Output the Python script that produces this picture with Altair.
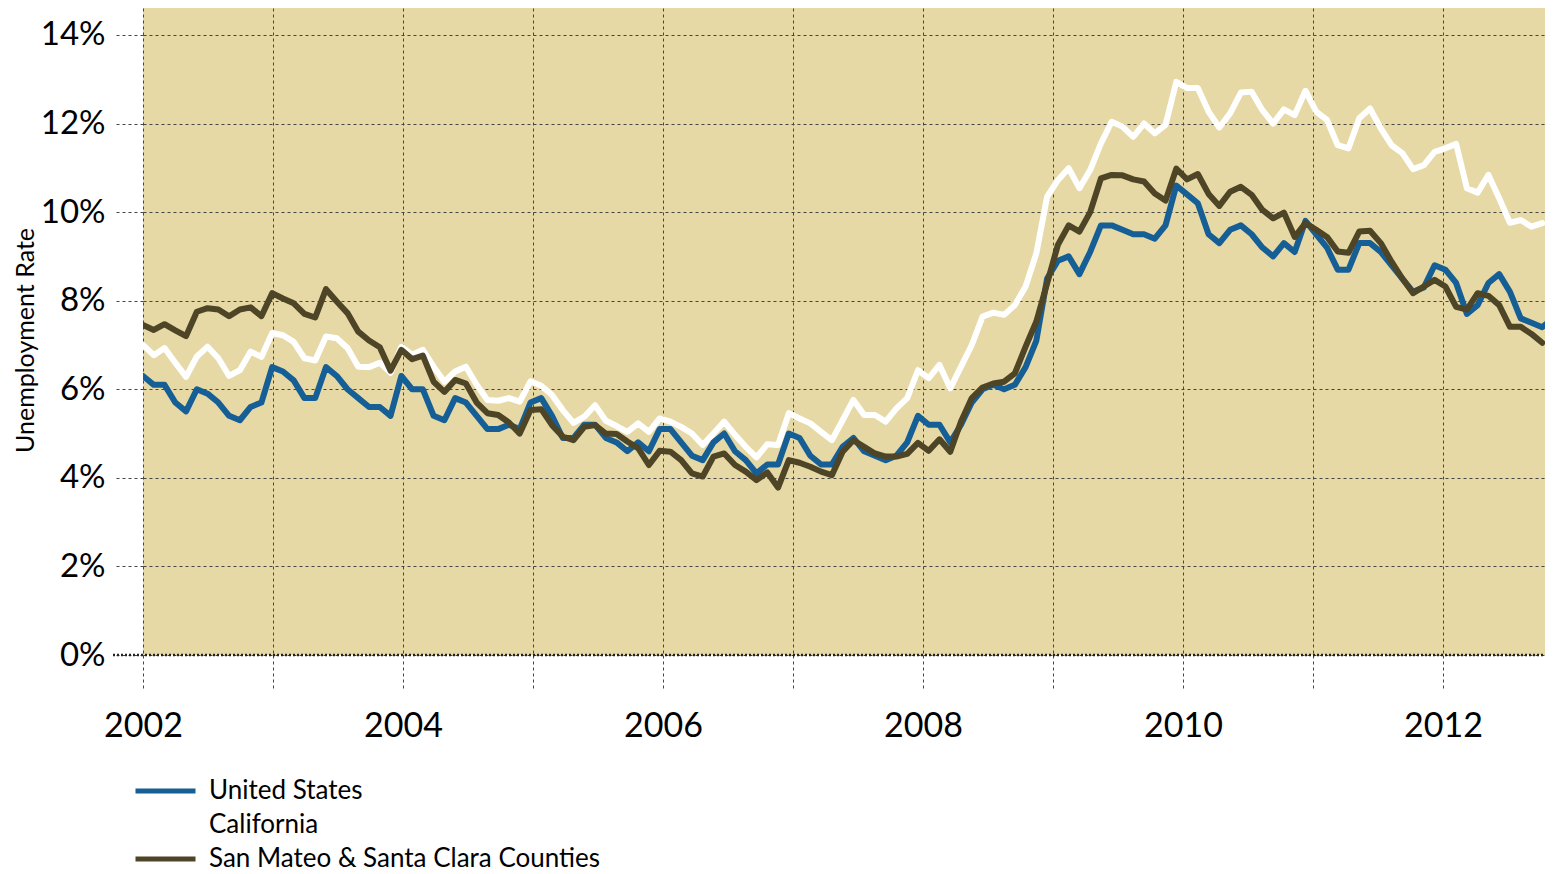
import altair as alt
import pandas as pd

# ---------------- data (monthly, Jan 2002 onward) ----------------
SERIES = ["United States", "California", "San Mateo & Santa Clara Counties"]
COLORS = ["#165E96", "#FFFFFF", "#4E4426"]

us_rate = [
    6.3, 6.1, 6.1, 5.7, 5.5, 6.0, 5.9, 5.7, 5.4, 5.3, 5.6, 5.7,
    6.5, 6.4, 6.2, 5.8, 5.8, 6.5, 6.3, 6.0, 5.8, 5.6, 5.6, 5.4,
    6.3, 6.0, 6.0, 5.4, 5.3, 5.8, 5.7, 5.4, 5.1, 5.1, 5.2, 5.1,
    5.7, 5.8, 5.4, 4.9, 4.9, 5.2, 5.2, 4.9, 4.8, 4.6, 4.8, 4.6,
    5.1, 5.1, 4.8, 4.5, 4.4, 4.8, 5.0, 4.6, 4.4, 4.1, 4.3, 4.3,
    5.0, 4.9, 4.5, 4.3, 4.3, 4.7, 4.9, 4.6, 4.5, 4.4, 4.5, 4.8,
    5.4, 5.2, 5.2, 4.8, 5.2, 5.7, 6.0, 6.1, 6.0, 6.1, 6.5, 7.1,
    8.5, 8.9, 9.0, 8.6, 9.1, 9.7, 9.7, 9.6, 9.5, 9.5, 9.4, 9.7,
    10.6, 10.4, 10.2, 9.5, 9.3, 9.6, 9.7, 9.5, 9.2, 9.0, 9.3, 9.1,
    9.8, 9.5, 9.2, 8.7, 8.7, 9.3, 9.3, 9.1, 8.8, 8.5, 8.2, 8.3,
    8.8, 8.7, 8.4, 7.7, 7.9, 8.4, 8.6, 8.2, 7.6, 7.5, 7.4, 7.6,
]

ca_rate = [
    7.0, 6.77, 6.93, 6.6, 6.28, 6.74, 6.96, 6.7, 6.3, 6.43, 6.85, 6.73,
    7.27, 7.22, 7.07, 6.7, 6.65, 7.19, 7.15, 6.93, 6.51, 6.5, 6.6, 6.37,
    6.96, 6.78, 6.89, 6.51, 6.17, 6.4, 6.51, 6.1, 5.76, 5.74, 5.8, 5.72,
    6.18, 6.08, 5.87, 5.53, 5.24, 5.38, 5.64, 5.29, 5.17, 5.04, 5.23, 5.04,
    5.34, 5.27, 5.15, 5.0, 4.74, 5.0, 5.27, 4.97, 4.7, 4.46, 4.76, 4.74,
    5.46, 5.34, 5.23, 5.04, 4.85, 5.3, 5.76, 5.42, 5.42, 5.27, 5.57, 5.8,
    6.43, 6.25, 6.55, 6.02, 6.51, 7.0, 7.64, 7.73, 7.68, 7.9, 8.32, 9.07,
    10.35, 10.72, 10.99, 10.54, 10.95, 11.55, 12.04, 11.93, 11.7, 12.0, 11.78, 11.97,
    12.94, 12.8, 12.8, 12.27, 11.91, 12.23, 12.7, 12.72, 12.3, 12.0, 12.32, 12.19,
    12.74, 12.27, 12.08, 11.51, 11.44, 12.12, 12.34, 11.89, 11.51, 11.33, 10.97, 11.06,
    11.36, 11.44, 11.54, 10.54, 10.44, 10.84, 10.31, 9.76, 9.82, 9.67, 9.75,
]

county_rate = [
    7.45, 7.34, 7.47, 7.33, 7.2, 7.75, 7.83, 7.8, 7.65, 7.8, 7.85, 7.65,
    8.17, 8.05, 7.94, 7.7, 7.62, 8.26, 7.98, 7.72, 7.3, 7.1, 6.95, 6.42,
    6.89, 6.68, 6.76, 6.17, 5.94, 6.21, 6.13, 5.7, 5.46, 5.42, 5.25, 5.0,
    5.53, 5.55, 5.19, 4.93, 4.85, 5.15, 5.19, 5.0, 4.99, 4.82, 4.67, 4.29,
    4.61, 4.59, 4.4, 4.1, 4.03, 4.48, 4.55, 4.29, 4.14, 3.95, 4.12, 3.78,
    4.4, 4.34, 4.25, 4.14, 4.06, 4.59, 4.85, 4.7, 4.55, 4.48, 4.48, 4.54,
    4.79, 4.61, 4.87, 4.59, 5.27, 5.8, 6.04, 6.13, 6.17, 6.36, 6.96, 7.53,
    8.39, 9.26, 9.7, 9.56, 10.0, 10.76, 10.84, 10.83, 10.74, 10.69, 10.42, 10.26,
    10.98, 10.74, 10.86, 10.41, 10.14, 10.46, 10.57, 10.39, 10.05, 9.86, 9.99, 9.44,
    9.75, 9.6, 9.44, 9.11, 9.08, 9.56, 9.58, 9.3, 8.88, 8.5, 8.17, 8.32,
    8.47, 8.32, 7.86, 7.8, 8.17, 8.11, 7.9, 7.41, 7.41, 7.25, 7.05,
]

FIRST_YEAR = 2002
years = list(range(2002, 2013))
y_ticks = [0, 2, 4, 6, 8, 10, 12, 14]

frames = []
for name, vals in zip(SERIES, [us_rate, ca_rate, county_rate]):
    frames.append(pd.DataFrame({"month": list(range(len(vals))), "rate": vals, "series": name}))
df = pd.concat(frames, ignore_index=True)

# ---------------- layout ----------------
FONT = "Lato"
PLOT_W, PLOT_H = 1402, 647
MONTH_PX = 1410 / (len(us_rate) - 1)   # horizontal spacing of monthly points
YEAR_PX = 130                           # year grid spacing in pixels
PCT_PX = 44.29                          # pixels per percentage point
x_max = PLOT_W / MONTH_PX
step = YEAR_PX / MONTH_PX               # year spacing in month units
year_pos = [k * step for k in range(len(years))]
GRID = "#454545"

label_expr = (
    f"(round(datum.value / {step}) % 2 == 0) ? "
    f"'' + ({FIRST_YEAR} + round(datum.value / {step})) : ''"
)

x_enc = alt.X(
    "month:Q",
    scale=alt.Scale(domain=[0, x_max], nice=False, zero=False),
    axis=alt.Axis(
        values=year_pos, labelExpr=label_expr, title=None,
        grid=True, gridDash=[3, 3], gridColor=GRID, gridWidth=1,
        ticks=True, tickDash=[3, 3], tickColor=GRID, tickSize=35, tickWidth=1,
        domain=False, labelFont=FONT, labelFontSize=34, labelColor="#000",
        labelPadding=19, labelFlush=False, labelOverlap=False, labelBound=False,
    ),
)
y_enc = alt.Y(
    "rate:Q",
    scale=alt.Scale(domain=[0, PLOT_H / PCT_PX], nice=False, zero=True),
    axis=alt.Axis(
        values=y_ticks, labelExpr="datum.value + '%'",
        title="Unemployment Rate", titleFont=FONT, titleFontSize=25,
        titleFontWeight="normal", titleColor="#000",
        titleX=-105, titleY=332, titleAngle=270, titleBaseline="bottom",
        titleAlign="center",
        grid=True, gridDash=[3, 3], gridColor=GRID, gridWidth=1,
        ticks=True, tickDash=[3, 3], tickColor=GRID, tickSize=30, tickWidth=1,
        domain=False, labelFont=FONT, labelFontSize=33, labelColor="#000",
        labelPadding=8, labelOverlap=False,
    ),
)
color_enc = alt.Color(
    "series:N",
    scale=alt.Scale(domain=SERIES, range=COLORS),
    legend=alt.Legend(
        title=None, orient="none", legendX=-10, legendY=771, padding=0,
        symbolType="stroke", symbolSize=3600, symbolStrokeWidth=5,
        clipHeight=24, rowPadding=8, labelFont=FONT, labelFontSize=26,
        labelColor="#000", labelOffset=11, labelLimit=0, direction="vertical",
    ),
)

base = alt.Chart(df).encode(x=x_enc, y=y_enc, color=color_enc)
draw_order = ["California", "United States", "San Mateo & Santa Clara Counties"]
lines = [
    base.transform_filter(alt.datum.series == s).mark_line(
        strokeWidth=6, strokeJoin="round", strokeCap="round", clip=True
    )
    for s in draw_order
]

zero_rule = alt.Chart(pd.DataFrame({"rate": [0]})).mark_rule(
    color="#222", strokeWidth=2.5, strokeDash=[2, 2]
).encode(y="rate:Q", x=alt.value(-30), x2=alt.value(PLOT_W))

chart = (
    alt.layer(*lines, zero_rule)
    .properties(
        width=PLOT_W, height=PLOT_H,
        padding={"left": 135, "top": 0, "right": 0, "bottom": 219},
        autosize=alt.AutoSizeParams(type="none"),
    )
    .configure_view(fill="#E6D9A5", stroke=None)
)

chart.save("out.html", embed_options={"renderer": "svg", "actions": False})
